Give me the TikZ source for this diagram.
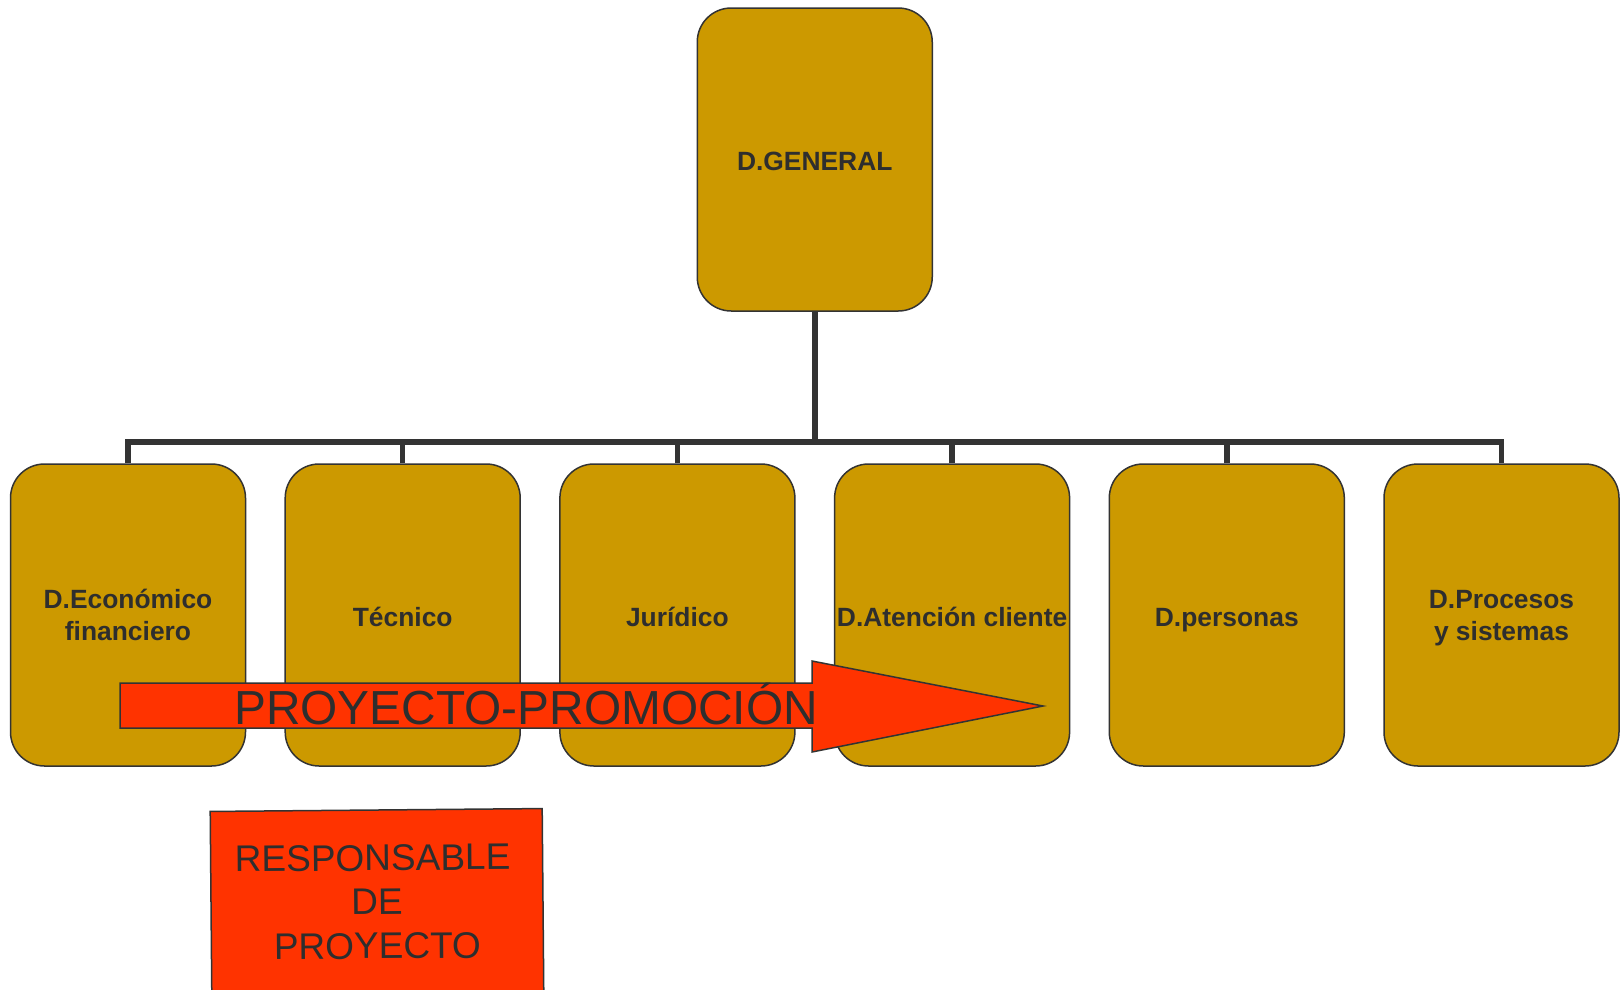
\documentclass[tikz,border=0pt]{standalone}
\usepackage{fontspec}
\setmainfont{Liberation Sans}
\usetikzlibrary{positioning}
\definecolor{gold}{HTML}{CC9900}
\definecolor{promored}{HTML}{FF3300}
\definecolor{darkline}{HTML}{333333}
\definecolor{darktext}{HTML}{2E2E2E}
\tikzset{
  dept/.style={draw=darkline, line width=1.5pt, fill=gold, rounded corners=34pt,
    minimum width=235pt, minimum height=302pt, inner sep=0pt, align=center,
    text=darktext, font=\bfseries\fontsize{26.4}{32}\selectfont,
    text height=26pt, text depth=4pt},
  oneline/.style={},
  twoline/.style={text height=54pt},
  link/.style={draw=darkline, line width=5.5pt},
  redbox/.style={draw=darkline, line width=1.5pt, fill=promored},
}
\begin{document}
\begin{tikzpicture}[x=1pt,y=-1pt]
  \useasboundingbox (0,0) rectangle (1623,989);
  \clip (0,0) rectangle (1623,989);

  % Top box
  \node[dept, minimum height=303pt] (gen) at (814.75,159.5) {D.GENERAL};

  % Department boxes in a row
  \foreach \name/\lbl/\lines [count=\i from 0] in {eco/{D.Económico\\financiero}/twoline, tec/Técnico/oneline, jur/Jurídico/oneline, aten/D.Atención cliente/oneline, pers/D.personas/oneline, proc/{D.Procesos\\y sistemas}/twoline} {
    \node[dept, \lines] (\name) at (128+274.7*\i, 615) {\lbl};
  }

  % Connectors through the bus line
  \coordinate (bus) at (814.75,442);
  \draw[link] (gen.south) -- (bus);
  \foreach \name in {eco,tec,jur,aten,pers,proc} {
    \draw[link] (\name.north) |- (bus);
  }

  % Project arrow over the boxes
  \filldraw[redbox] (120,683) -- (812,683) -- (812,661) -- (1043,706) -- (812,752) -- (812,728) -- (120,728) -- cycle;
  \node[anchor=base, inner sep=0pt, text=darktext, font=\fontsize{47.8}{57}\selectfont] (proy) at (526,724) {PROYECTO-PROMOCIÓN};

  % Responsible box, cut by the lower edge
  \node[redbox, minimum width=332pt, minimum height=184pt, rotate=0.5, align=center,
    text=darktext, font=\fontsize{37}{44}\selectfont] (resp) at (377,902) {RESPONSABLE\hspace*{8pt}\\DE\hspace*{8pt}\\PROYECTO};
\end{tikzpicture}
\end{document}
